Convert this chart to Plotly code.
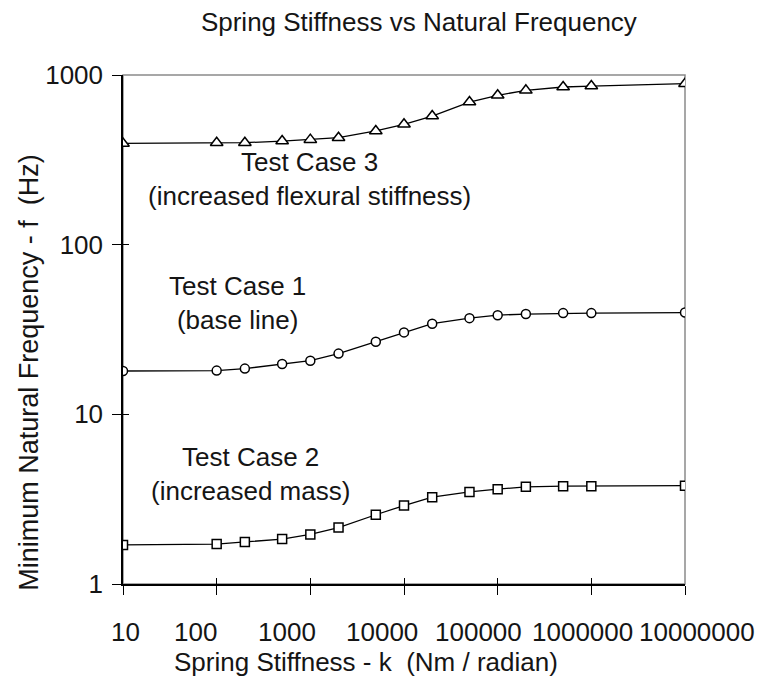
import plotly.graph_objects as go

# Spring stiffness k (Nm/radian) at which each case was evaluated
stiffness = [10, 100, 200, 500, 1000, 2000, 5000, 10000, 20000, 50000,
             100000, 200000, 500000, 1000000, 10000000]

# Minimum natural frequency f (Hz) for each test case
freq_case1 = [18.0, 18.1, 18.6, 19.8, 20.7, 22.8, 26.8, 30.4, 34.2, 36.9,
              38.4, 39.0, 39.5, 39.5, 39.8]
freq_case2 = [1.70, 1.72, 1.77, 1.84, 1.96, 2.15, 2.56, 2.90, 3.25, 3.49,
              3.62, 3.74, 3.77, 3.77, 3.80]
freq_case3 = [395, 399, 399, 408, 416, 427, 468, 512, 573, 693,
              759, 812, 850, 861, 889]

x_tick_vals = [10, 100, 1000, 10000, 100000, 1000000, 10000000]
x_tick_text = ["10", "100", "1000", "10000", "100000", "1000000", "10000000"]
y_tick_vals = [1, 10, 100, 1000]
y_tick_text = ["1", "10", "100", "1000"]

# horizontal nudges (px) so the wide decade labels do not collide
x_label_shift = [2, -21, -23, -22, -19, -9, 12]

FONT = "Liberation Sans, Arial, sans-serif"
INK = "#151515"
FS = 26

fig = go.Figure()


def add_series(y, symbol, size):
    fig.add_trace(go.Scatter(
        x=stiffness, y=y, mode="lines+markers",
        line=dict(color="black", width=1.3),
        marker=dict(symbol=symbol, size=size, color="white",
                    line=dict(color="black", width=1.5)),
        showlegend=False, hoverinfo="x+y",
    ))


add_series(freq_case3, "triangle-up", 11)
add_series(freq_case1, "circle", 9)
add_series(freq_case2, "square", 9)

axis_common = dict(type="log", showgrid=False, zeroline=False)

fig.update_layout(
    width=770, height=677, autosize=False,
    margin=dict(l=123, r=85, t=75, b=93),
    paper_bgcolor="white", plot_bgcolor="white",
    font=dict(family=FONT, size=FS, color=INK),
    title=dict(text="Spring Stiffness vs Natural Frequency",
               x=0.544, xanchor="center", y=0.967, yanchor="middle",
               font=dict(family=FONT, size=FS, color=INK)),
    xaxis=dict(**axis_common, range=[1, 7],
               showline=True, linecolor="black", linewidth=1.5,
               ticks="outside", ticklen=9, tickwidth=1.4, tickcolor="black",
               tickvals=x_tick_vals, showticklabels=False),
    yaxis=dict(**axis_common, range=[0, 3],
               showline=True, linecolor="black", linewidth=1.5,
               ticks="outside", ticklen=9, tickwidth=1.4, tickcolor="black",
               tickvals=y_tick_vals, ticktext=y_tick_text,
               ticklabelstandoff=4,
               tickfont=dict(family=FONT, size=FS, color=INK)),
    # overlay axes carry the inner half of each crossing tick
    xaxis2=dict(**axis_common, range=[1, 7], overlaying="x", anchor="y",
                side="bottom", showline=False, ticks="inside", ticklen=6,
                tickwidth=1.4, tickcolor="black", tickvals=x_tick_vals,
                showticklabels=False),
    yaxis2=dict(**axis_common, range=[0, 3], overlaying="y", anchor="x",
                side="left", showline=False, ticks="inside", ticklen=6,
                tickwidth=1.4, tickcolor="black", tickvals=y_tick_vals,
                showticklabels=False),
    shapes=[dict(type="rect", xref="paper", yref="paper", x0=0, x1=1,
                 y0=0, y1=1, line=dict(color="#8a8a8a", width=1.5),
                 layer="below")],
)

# keep the overlay subplot alive with an invisible copy of one series
fig.add_trace(go.Scatter(x=stiffness, y=freq_case1, xaxis="x2", yaxis="y2",
                         mode="lines", line=dict(width=0), opacity=0,
                         showlegend=False, hoverinfo="skip"))

annotations = []
for val, txt, dx in zip(x_tick_vals, x_tick_text, x_label_shift):
    annotations.append(dict(x=len(str(val)) - 1, y=0, xref="x", yref="paper",
                            text=txt, showarrow=False, xanchor="center",
                            yanchor="middle", xshift=dx, yshift=-48,
                            font=dict(family=FONT, size=FS, color=INK)))

annotations += [
    dict(text="Spring Stiffness - k  (Nm / radian)", x=0.5, y=0,
         xref="paper", yref="paper", xshift=-38, yshift=-78,
         xanchor="center", yanchor="middle", showarrow=False),
    dict(text="Minimum Natural Frequency - f  (Hz)", x=0, y=0.415,
         xref="paper", yref="paper", xshift=-94,
         font=dict(family=FONT, size=27, color=INK),
         textangle=-90, xanchor="center", yanchor="middle", showarrow=False),
    dict(text="Test Case 3<br>(increased flexural stiffness)",
         x=0.332, y=0.795, xref="paper", yref="paper", showarrow=False,
         xanchor="center", yanchor="middle"),
    dict(text="Test Case 1<br>(base line)",
         x=0.204, y=0.552, xref="paper", yref="paper", showarrow=False,
         xanchor="center", yanchor="middle"),
    dict(text="Test Case 2<br>(increased mass)",
         x=0.226, y=0.216, xref="paper", yref="paper", showarrow=False,
         xanchor="center", yanchor="middle"),
]
fig.update_layout(annotations=annotations)

fig.write_html("out.html")
